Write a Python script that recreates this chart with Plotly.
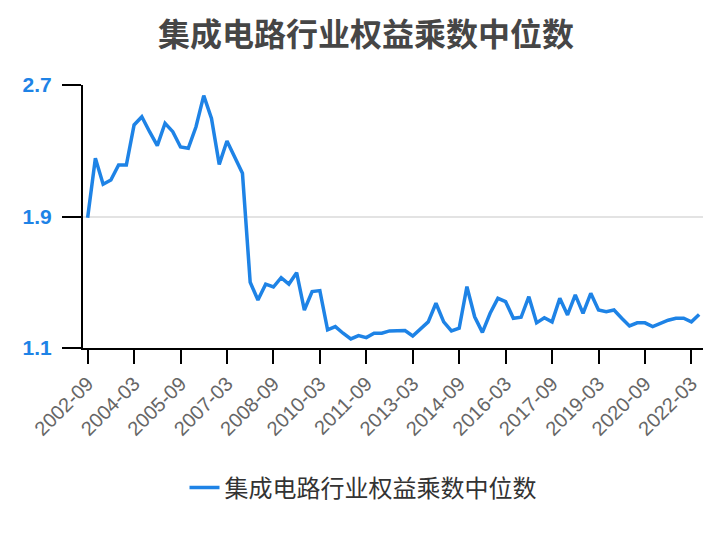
import plotly.graph_objects as go

# Quarterly dates 2002-09 .. 2022-06
dates = []
y, m = 2002, 9
while (y, m) <= (2022, 6):
    dates.append(f"{y}-{m:02d}")
    m += 3
    if m > 12:
        m -= 12
        y += 1

values = [
    1.893, 2.254, 2.096, 2.122, 2.213, 2.213, 2.457, 2.507, 2.416, 2.331,
    2.467, 2.416, 2.323, 2.315, 2.446, 2.635, 2.497, 2.217, 2.359, 2.258,
    2.163, 1.500, 1.392, 1.488, 1.471, 1.528, 1.489, 1.558, 1.331, 1.443,
    1.449, 1.210, 1.230, 1.190, 1.155, 1.175, 1.163, 1.190, 1.190, 1.204,
    1.204, 1.206, 1.173, 1.213, 1.259, 1.372, 1.259, 1.204, 1.220, 1.473,
    1.290, 1.195, 1.311, 1.402, 1.382, 1.281, 1.287, 1.412, 1.253, 1.284,
    1.259, 1.402, 1.301, 1.423, 1.311, 1.433, 1.331, 1.321, 1.331, 1.281,
    1.234, 1.253, 1.253, 1.230, 1.249, 1.269, 1.281, 1.281, 1.259, 1.304,
]

x_ticks = dates[::6]
y_ticks = [1.1, 1.9, 2.7]
series_name = "集成电路行业权益乘数中位数"
title_text = "集成电路行业权益乘数中位数"

BLUE = "#1E83E6"
W, H = 716, 532  # page body has an 8px margin

fig = go.Figure()
fig.add_trace(go.Scatter(
    x=dates, y=values, mode="lines", name=series_name,
    line=dict(color=BLUE, width=3.5),
))

fig.update_layout(
    width=W, height=H,
    paper_bgcolor="white", plot_bgcolor="white",
    margin=dict(l=75, r=21, t=77, b=192, autoexpand=False),
    title=dict(text=f"<b>{title_text}</b>", x=0.5, xanchor="center",
               y=1 - 27 / H, yanchor="middle",
               font=dict(family="Noto Sans CJK SC", size=32, color="#464646")),
    showlegend=True,
    legend=dict(orientation="h", xref="container", x=355 / W, xanchor="center",
                yref="container", y=1 - 480 / H, yanchor="middle",
                font=dict(family="Noto Sans CJK SC", size=24, color="#333333")),
)

fig.update_xaxes(
    type="category", categoryorder="array", categoryarray=dates,
    range=[-0.6, len(dates) - 0.5],
    tickmode="array", tickvals=x_ticks, ticktext=x_ticks,
    tickangle=-45,
    showline=True, linecolor="black", linewidth=2,
    ticks="outside", ticklen=14, tickwidth=2, tickcolor="black",
    showgrid=False, zeroline=False, automargin=False,
    tickfont=dict(family="Liberation Sans", size=20, color="#666666"),
)
fig.update_yaxes(
    range=[1.1, 2.7],
    tickmode="array", tickvals=y_ticks, ticktext=[f"{v:.1f}" for v in y_ticks],
    showline=True, linecolor="black", linewidth=2,
    ticks="outside", ticklen=19, tickwidth=2, tickcolor="black",
    ticklabelstandoff=6, automargin=False,
    showgrid=True, gridcolor="#E3E3E3", gridwidth=2, zeroline=False,
    tickfont=dict(family="Liberation Sans", size=21, color=BLUE, weight="bold"),
)

fig.write_html("out.html")
